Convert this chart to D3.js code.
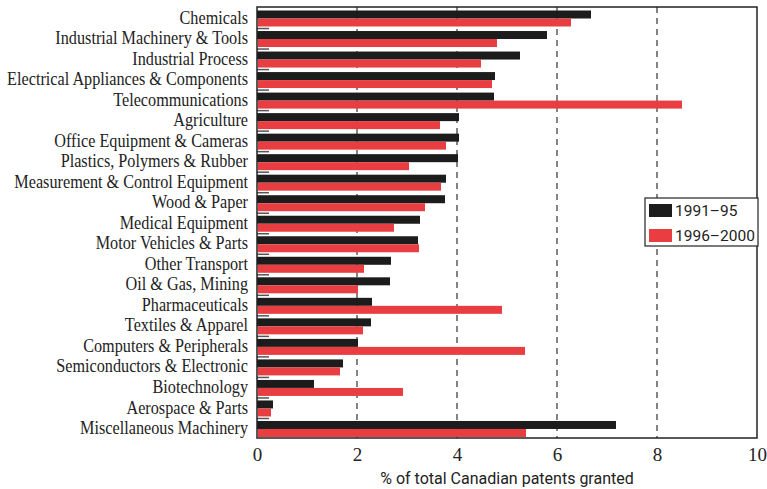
<!doctype html>
<html lang="en">
<head>
  <meta charset="utf-8">
  <title>Canadian patents by sector</title>
  <style type="text/css">
    body{ margin:0; background:#fff; }
    .cat{ font-family:"Liberation Serif", "DejaVu Serif", serif; font-size:18px; fill:#222; }
    .axis text{ font-family:"Liberation Serif", serif; font-size:19px; fill:#222; }
    .sans{ font-family:"Liberation Sans Narrow", "Roboto", "Liberation Sans", sans-serif; fill:#222; }
    .grid{ stroke:#333; stroke-width:1.2; stroke-dasharray:6,5; }
  </style>
</head>
<body>
  <div id="vis"></div>
  <script src="https://cdn.jsdelivr.net/npm/d3@7"></script>
  <script type="text/javascript">

    var width = 767,
      height = 489;

    var categories = ['Chemicals','Industrial Machinery & Tools','Industrial Process',
      'Electrical Appliances & Components','Telecommunications','Agriculture',
      'Office Equipment & Cameras','Plastics, Polymers & Rubber','Measurement & Control Equipment',
      'Wood & Paper','Medical Equipment','Motor Vehicles & Parts','Other Transport',
      'Oil & Gas, Mining','Pharmaceuticals','Textiles & Apparel','Computers & Peripherals',
      'Semiconductors & Electronic','Biotechnology','Aerospace & Parts','Miscellaneous Machinery'];

    var s1991 = [6.68,5.80,5.26,4.76,4.74,4.04,4.04,4.02,3.78,3.76,3.26,3.22,2.68,2.66,2.30,2.28,2.02,1.72,1.14,0.32,7.18];
    var s1996 = [6.28,4.80,4.48,4.70,8.50,3.66,3.78,3.04,3.68,3.36,2.74,3.24,2.14,2.02,4.90,2.12,5.36,1.66,2.92,0.28,5.38];

    var seriesNames = ['1991\u201395','1996\u20132000'],
      colors = ['#1c1c1c','#e83e42'];

    var xTicks = [0,2,4,6,8,10];

    var pLeft = 257, pRight = 757, pTop = 7, pBottom = 438;

    var svg = d3.select('#vis').append('svg')
      .attr('width', width)
      .attr('height', height);

    var x = d3.scaleLinear().domain([0,10]).range([pLeft, pRight]);
    var y = d3.scaleBand().domain(categories).range([pTop, pBottom]).paddingInner(0).paddingOuter(0);
    var barH = 8, offset = 3.5;

    // dashed grid
    svg.append('g').selectAll('line')
      .data([2,4,6,8])
      .enter().append('line')
      .attr('class','grid')
      .attr('x1', function(d){ return x(d); })
      .attr('x2', function(d){ return x(d); })
      .attr('y1', pTop)
      .attr('y2', pBottom);

    // bars
    var bars = svg.append('g');
    [s1991, s1996].forEach(function(series, si){
      bars.selectAll('.b'+si)
        .data(series)
        .enter().append('rect')
        .attr('class','b'+si)
        .attr('x', x(0) + si)
        .attr('y', function(d,i){ return y(categories[i]) + offset + si*barH; })
        .attr('width', function(d){ return x(d) - x(0) - si; })
        .attr('height', barH)
        .style('fill', colors[si]);
    });

    // small inner ticks on left axis
    svg.append('g').selectAll('line')
      .data(categories.slice(1))
      .enter().append('line')
      .attr('x1', pLeft)
      .attr('x2', pLeft + 12)
      .attr('y1', function(d){ return y(d) + 1; })
      .attr('y2', function(d){ return y(d) + 1; })
      .style('stroke','#555')
      .style('stroke-width',1.5);

    // frame
    svg.append('rect')
      .attr('x', pLeft).attr('y', pTop)
      .attr('width', pRight - pLeft).attr('height', pBottom - pTop)
      .style('fill','none').style('stroke','#222').style('stroke-width',1.5);

    // category labels (condensed serif in the original, so squeeze horizontally)
    var labels = svg.append('g');
    var labelText = labels.selectAll('text')
      .data(categories)
      .enter().append('text')
      .attr('class','cat')
      .attr('x', 0)
      .attr('y', function(d){ return y(d) + y.bandwidth()/2; })
      .attr('dy','0.35em')
      .attr('text-anchor','end')
      .text(function(d){ return d; });
    var widest = d3.max(labelText.nodes(), function(n){ return n.getComputedTextLength(); });
    var k = Math.min(1, 241 / widest);
    labels.attr('transform','translate(248,0) scale('+k+',1)');

    // x axis
    var xAxis = svg.append('g')
      .attr('class','axis')
      .attr('transform','translate(0,'+pBottom+')')
      .call(d3.axisBottom(x).tickValues(xTicks).tickSize(0).tickPadding(10).tickFormat(d3.format('d')));
    xAxis.select('.domain').remove();

    svg.append('text')
      .attr('class','sans')
      .attr('x', (pLeft+pRight)/2)
      .attr('y', 484)
      .attr('text-anchor','middle')
      .style('font-size','16px')
      .text('% of total Canadian patents granted');

    // legend
    var legend = svg.append('g').attr('transform','translate(645,198)');
    legend.append('rect')
      .attr('width',113).attr('height',48)
      .style('fill','#fff').style('stroke','#222').style('stroke-width',1.2);
    seriesNames.forEach(function(n,i){
      legend.append('rect')
        .attr('x',4).attr('y',6 + i*25)
        .attr('width',23).attr('height',13)
        .style('fill', colors[i]);
      legend.append('text')
        .attr('class','sans')
        .attr('x',30).attr('y',12.5 + i*25)
        .attr('dy','0.35em')
        .style('font-size','15.5px')
        .text(n);
    });

  </script>
</body>
</html>
